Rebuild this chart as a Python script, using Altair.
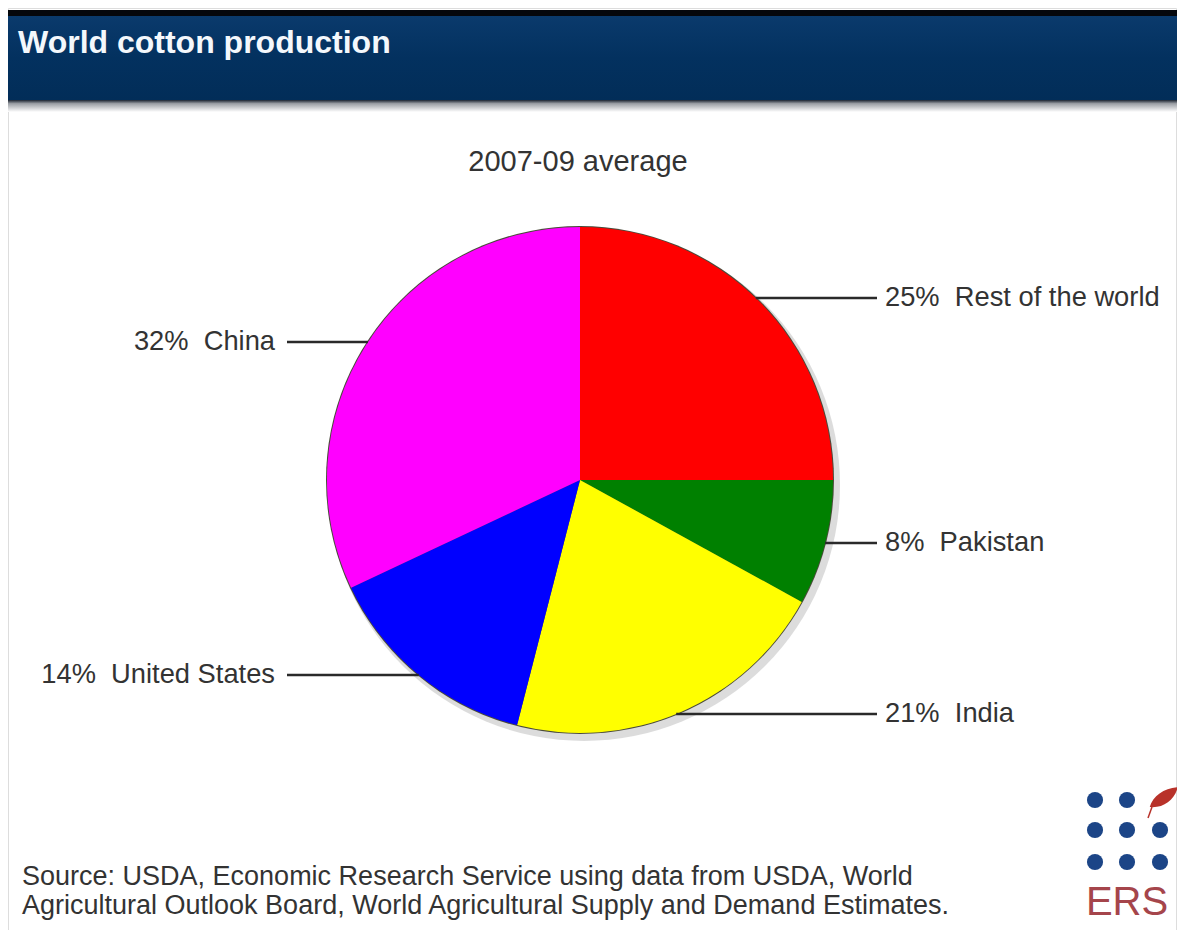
import math
import altair as alt
import pandas as pd

# ---------------- data ----------------
regions = ["Rest of the world", "Pakistan", "India", "United States", "China"]
shares = [25, 8, 21, 14, 32]
colors = ["#ff0000", "#008000", "#ffff00", "#0000ff", "#ff00ff"]

title_text = "World cotton production"
subtitle_text = "2007-09 average"
source_lines = [
    "Source: USDA, Economic Research Service using data from USDA, World",
    "Agricultural Outlook Board, World Agricultural Supply and Demand Estimates.",
]

# ---------------- layout (pixels, chart coordinates) ----------------
W, H = 1169, 922
CX, CY, R = 572, 472, 253
label_side = ["right", "right", "right", "left", "left"]
label_y = [290, 535, 706, 667, 334]
RIGHT_LINE_END, RIGHT_TEXT_X = 869, 877
LEFT_LINE_END, LEFT_TEXT_X = 279, 267
FONT = "Liberation Sans, Arial, Helvetica, sans-serif"
TEXT_COLOR = "#333333"

pie_df = pd.DataFrame({"region": regions, "share": shares, "idx": list(range(len(regions)))})

rows = []
for reg, s, side, ly in zip(regions, shares, label_side, label_y):
    dy = ly - CY
    dx = math.sqrt(max(R * R - dy * dy, 0))
    if side == "right":
        x1, x2, tx, al = CX + dx, RIGHT_LINE_END, RIGHT_TEXT_X, "left"
    else:
        x1, x2, tx, al = LEFT_LINE_END, CX - dx, LEFT_TEXT_X, "right"
    rows.append({"region": reg, "label": f"{s}%\u00a0 {reg}", "x1": x1, "x2": x2,
                 "tx": tx, "ly": ly, "align": al})
lab_df = pd.DataFrame(rows)


def X(f):
    return alt.X(f, scale=None, axis=None)


def Y(f):
    return alt.Y(f, scale=None, axis=None)


one = pd.DataFrame({"a": [0]})

# header
black_bar = alt.Chart(one).mark_rect(color="#05070c").encode(
    x=alt.value(0), x2=alt.value(W), y=alt.value(2), y2=alt.value(8))
navy_bar = alt.Chart(one).mark_rect(
    color=alt.LinearGradient(gradient="linear", x1=0, x2=0, y1=0, y2=1,
                             stops=[alt.GradientStop(color="#0a3a6c", offset=0),
                                    alt.GradientStop(color="#03315f", offset=0.5),
                                    alt.GradientStop(color="#022d58", offset=1)])
).encode(x=alt.value(0), x2=alt.value(W), y=alt.value(8), y2=alt.value(92))
shadow_bar = alt.Chart(one).mark_rect(
    color=alt.LinearGradient(gradient="linear", x1=0, x2=0, y1=0, y2=1,
                             stops=[alt.GradientStop(color="#1a2330", offset=0),
                                    alt.GradientStop(color="#9a9ea4", offset=0.3),
                                    alt.GradientStop(color="#ffffff", offset=1)])
).encode(x=alt.value(0), x2=alt.value(W), y=alt.value(92), y2=alt.value(104))

title = alt.Chart(pd.DataFrame({"t": [title_text]})).mark_text(
    font=FONT, fontSize=32, fontWeight="bold", color="#f4f8fc", align="left",
    baseline="alphabetic").encode(x=alt.value(10), y=alt.value(45), text="t:N")

subtitle = alt.Chart(pd.DataFrame({"t": [subtitle_text]})).mark_text(
    font=FONT, fontSize=29, color=TEXT_COLOR, align="center",
    baseline="middle").encode(x=alt.value(CX - 2), y=alt.value(154), text="t:N")

# pie shadow + outline
full = pd.DataFrame({"v": [100]})
pie_shadow = alt.Chart(full).mark_arc(outerRadius=R + 3, color="#9a9a9a", opacity=0.35).encode(
    theta=alt.Theta("v:Q"), x=alt.value(CX + 4), y=alt.value(CY + 5))
pie_outline = alt.Chart(full).mark_arc(outerRadius=R + 1, color="#4a4a3a").encode(
    theta=alt.Theta("v:Q"), x=alt.value(CX), y=alt.value(CY))

pie = alt.Chart(pie_df).mark_arc(outerRadius=R).encode(
    theta=alt.Theta("share:Q", stack=True),
    order=alt.Order("idx:Q"),
    color=alt.Color("region:N", scale=alt.Scale(domain=regions, range=colors), legend=None),
    x=alt.value(CX), y=alt.value(CY),
)

lines = alt.Chart(lab_df).mark_rule(color="#2a2a2a", strokeWidth=2.5).encode(
    x=X("x1:Q"), x2="x2:Q", y=Y("ly:Q"))

labels_r = alt.Chart(lab_df[lab_df["align"] == "left"]).mark_text(
    font=FONT, fontSize=27.3, color=TEXT_COLOR, align="left", baseline="middle").encode(
    x=X("tx:Q"), y=Y("ly:Q"), text="label:N")
labels_l = alt.Chart(lab_df[lab_df["align"] == "right"]).mark_text(
    font=FONT, fontSize=27.3, color=TEXT_COLOR, align="right", baseline="middle").encode(
    x=X("tx:Q"), y=Y("ly:Q"), text="label:N")

src_df = pd.DataFrame({"t": source_lines, "y": [869, 898]})
source = alt.Chart(src_df).mark_text(
    font=FONT, fontSize=27, color=TEXT_COLOR, align="left", baseline="middle").encode(
    x=alt.value(14), y=Y("y:Q"), text="t:N")

# ERS logo
dot_x = [1087, 1119, 1087, 1119, 1152, 1087, 1119, 1152]
dot_y = [792, 792, 822, 822, 822, 854, 854, 854]
dots = alt.Chart(pd.DataFrame({"x": dot_x, "y": dot_y})).mark_point(
    filled=True, shape="circle", size=260, color="#1c4587", opacity=1).encode(
    x=X("x:Q"), y=Y("y:Q"))
leaf = alt.Chart(pd.DataFrame({"x": [1155], "y": [791]})).mark_point(
    filled=True, size=870, color="#b8322a", opacity=1,
    shape="M -0.9 0.55 C -0.7 -0.2 0.1 -0.75 1 -0.8 C 0.8 0 0.1 0.6 -0.8 0.55 Z").encode(
    x=X("x:Q"), y=Y("y:Q"))
stem = alt.Chart(pd.DataFrame({"x": [1144], "x2": [1140], "y": [799], "y2": [810]})).mark_rule(
    color="#b8322a", strokeWidth=1.5).encode(
    x=X("x:Q"), x2="x2:Q", y=Y("y:Q"), y2="y2:Q")
ers = alt.Chart(pd.DataFrame({"t": ["ERS"]})).mark_text(
    font=FONT, fontSize=40, color="#a5454b", align="center", baseline="middle").encode(
    x=alt.value(1119), y=alt.value(895), text="t:N")

chart = alt.layer(
    black_bar, navy_bar, shadow_bar, title, subtitle,
    pie_shadow, pie_outline, pie, lines, labels_r, labels_l, source,
    dots, leaf, stem, ers,
).properties(
    width=W, height=H, padding=0,
    autosize=alt.AutoSizeParams(type="fit", contains="padding"),
).configure_view(stroke=None).configure(background="white")

chart.save("out.html", embed_options={"renderer": "svg", "actions": False})
